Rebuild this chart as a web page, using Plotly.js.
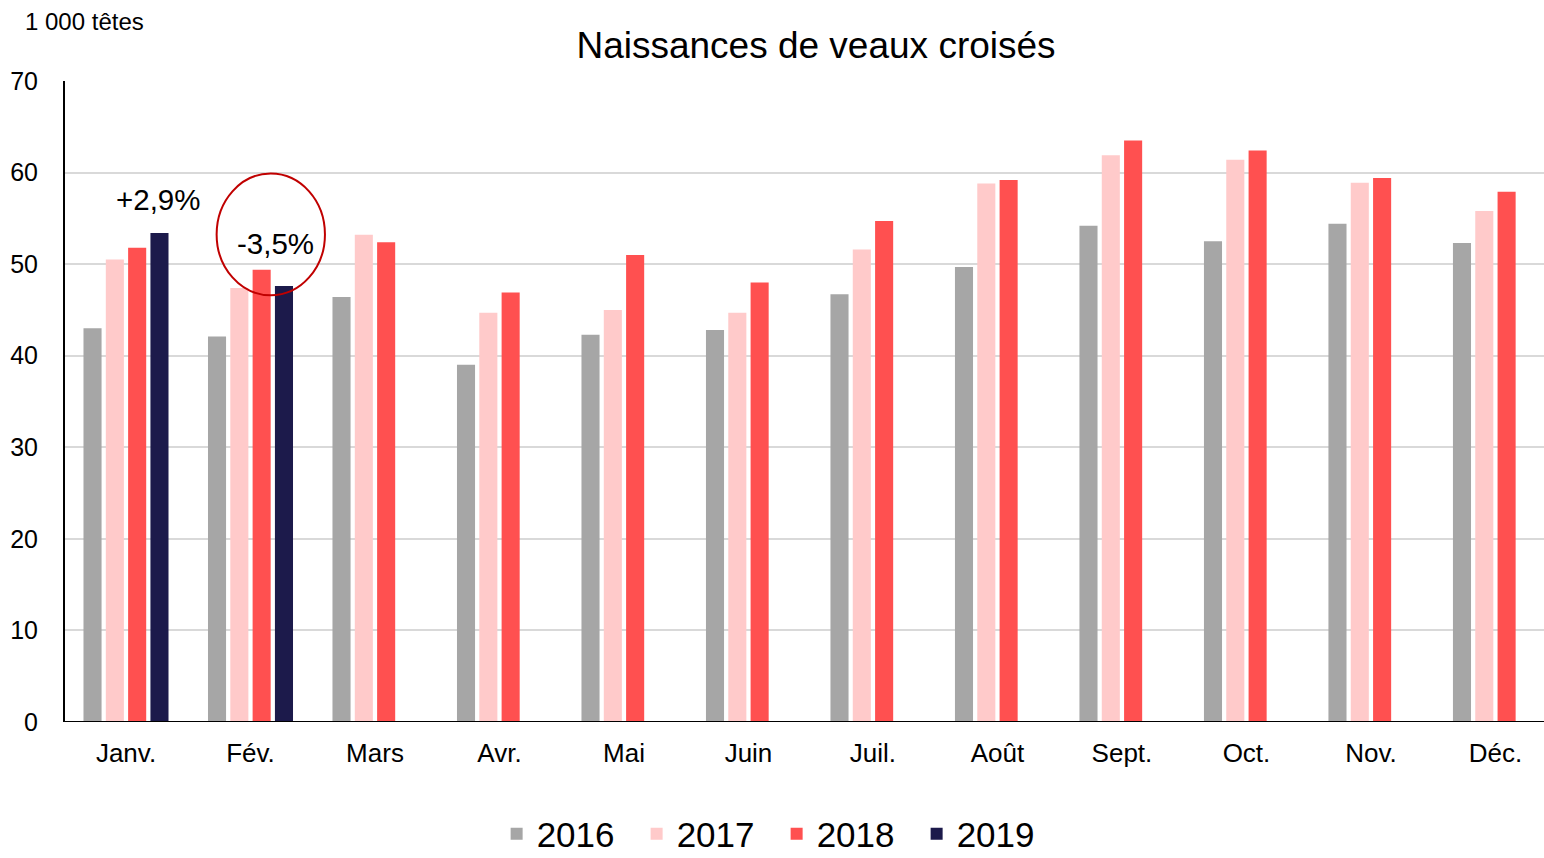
<!DOCTYPE html>
<html>
<head>
<meta charset="utf-8">
<script src="https://cdn.plot.ly/plotly-3.0.1.min.js"></script>
<style>html,body{margin:0;padding:0;background:#fff;}#chart{width:1544px;height:858px;}</style>
</head>
<body>
<div id="chart"></div>
<script>
const months = ['Janv.', 'Fév.', 'Mars', 'Avr.', 'Mai', 'Juin', 'Juil.', 'Août', 'Sept.', 'Oct.', 'Nov.', 'Déc.'];
const y2016 = [43.0, 42.1, 46.4, 39.0, 42.3, 42.8, 46.7, 49.7, 54.2, 52.5, 54.4, 52.3];
const y2017 = [50.5, 47.4, 53.2, 44.7, 45.0, 44.7, 51.6, 58.8, 61.9, 61.4, 58.9, 55.8];
const y2018 = [51.8, 49.4, 52.4, 46.9, 51.0, 48.0, 54.7, 59.2, 63.5, 62.4, 59.4, 57.9];
const y2019 = [53.4, 47.6, null, null, null, null, null, null, null, null, null, null];
const seriesNames = ['2016', '2017', '2018', '2019'];
const seriesColors = ['#a6a6a6', '#ffcaca', '#ff5050', '#1c1a4b'];
const changeLabels = ['+2,9%', '-3,5%'];

const FONT = 'Liberation Sans, Arial, sans-serif';
const allSeries = [y2016, y2017, y2018, y2019];
const traces = allSeries.map((vals, i) => ({
  type: 'bar',
  name: seriesNames[i],
  x: months,
  y: vals,
  marker: {color: seriesColors[i], line: {width: 0}},
  hoverinfo: 'x+y+name'
}));

const layout = {
  width: 1544, height: 858,
  margin: {l: 65, r: 0, t: 81, b: 136},
  paper_bgcolor: '#ffffff', plot_bgcolor: '#ffffff',
  font: {family: FONT, color: '#000000', size: 24},
  barmode: 'group',
  bargap: 0.283,
  bargroupgap: 0.19,
  title: {
    text: 'Naissances de veaux croisés',
    font: {family: FONT, size: 37, color: '#000000'},
    xref: 'container', x: 0.5285, xanchor: 'center',
    yref: 'container', y: 1 - 45/858, yanchor: 'middle'
  },
  xaxis: {
    type: 'category',
    range: [-0.49, 11.39],
    showgrid: false,
    showline: false,
    ticks: '',
    tickfont: {family: FONT, size: 26, color: '#000000'},
    ticklabelstandoff: 13,
    zeroline: false
  },
  yaxis: {
    range: [0, 70],
    dtick: 10,
    tick0: 0,
    showgrid: true,
    gridcolor: '#d9d9d9',
    gridwidth: 2,
    showline: true,
    linecolor: '#000000',
    linewidth: 2,
    zeroline: false,
    ticks: '',
    tickfont: {family: FONT, size: 25, color: '#000000'},
    ticklabelstandoff: 20
  },
  showlegend: true,
  legend: {
    orientation: 'h',
    xref: 'container', yref: 'container',
    x: 0.503, xanchor: 'center',
    y: 1 - 834/858, yanchor: 'middle',
    font: {family: FONT, size: 35, color: '#000000'},
    entrywidth: 95,
    entrywidthmode: 'pixels',
    traceorder: 'normal'
  },
  shapes: [
    {type: 'line', xref: 'paper', yref: 'y', x0: 0, x1: 1, y0: 0, y1: 0,
     line: {color: '#000000', width: 2}},
    {type: 'circle', xref: 'x', yref: 'y', x0: 0.728, x1: 1.598, y0: 46.6, y1: 59.9,
     line: {color: '#c00000', width: 2}, fillcolor: 'rgba(0,0,0,0)'}
  ],
  annotations: [
    {text: '1 000 têtes', xref: 'paper', yref: 'paper', x: (23 - 65) / 1479, y: (722 - 21) / 641,
     xanchor: 'left', yanchor: 'middle', showarrow: false,
     font: {family: FONT, size: 24, color: '#000000'}},
    {text: changeLabels[0], xref: 'x', yref: 'y', x: 0.253, y: 57.1,
     xanchor: 'center', yanchor: 'middle', showarrow: false,
     font: {family: FONT, size: 29.5, color: '#000000'}},
    {text: changeLabels[1], xref: 'x', yref: 'y', x: 1.197, y: 52.3,
     xanchor: 'center', yanchor: 'middle', showarrow: false,
     font: {family: FONT, size: 29.5, color: '#000000'}}
  ]
};

Plotly.newPlot('chart', traces, layout, {displayModeBar: false, responsive: false});
</script>
</body>
</html>
